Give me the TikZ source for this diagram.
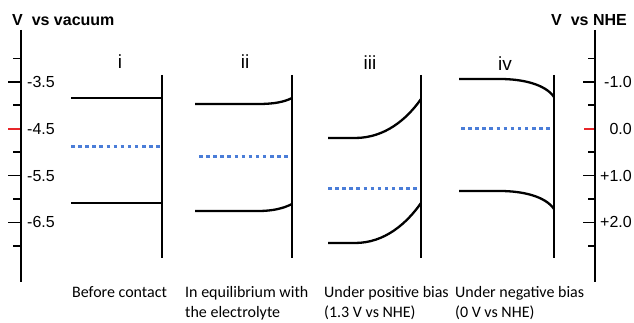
\documentclass[tikz,border=0pt]{standalone}
\usepackage{fontspec}
\setmainfont{Liberation Sans}
\newfontfamily\capfont{Carlito}
\definecolor{fermiblue}{HTML}{4A7DD8}
\definecolor{refred}{HTML}{E8262A}

\begin{document}
\begin{tikzpicture}[x=1pt,y=1pt,
 every node/.style={font=\fontsize{16}{19}\selectfont,inner sep=0pt},
 axis/.style={line width=2.8pt,draw=black},
 tick/.style={line width=1.8pt,draw=black},
 band/.style={line width=2.3pt,draw=black},
 iface/.style={line width=2.6pt,draw=black},
 fermi/.style={line width=3pt,draw=fermiblue,dash pattern=on 3.5pt off 3.6pt},
 head/.style={anchor=west,font=\fontsize{16}{19}\selectfont\bfseries},
 roman/.style={font=\fontsize{19}{22}\selectfont},
 caption/.style={anchor=north west,align=left,font=\capfont\fontsize{16}{20.5}\selectfont}]

\useasboundingbox (0,0) rectangle (634,-323);

\node[head] (vac) at (12,-20) {V\ \ vs vacuum};
\node[head] (nhe) at (551,-20) {V\ \ vs NHE};

\draw[axis] (21,-30) -- (21,-282);
\draw[axis] (595,-30) -- (595,-282);
\foreach \k in {0,2,4,6,8}
 \draw[tick] (13,{-58.6-23.4*\k}) -- (21,{-58.6-23.4*\k})
  (588,{-58.6-23.4*\k}) -- (595,{-58.6-23.4*\k});
\foreach \k in {1,5,7}
 \draw[tick] (8,{-58.6-23.4*\k}) -- (21,{-58.6-23.4*\k})
  (583,{-58.6-23.4*\k}) -- (595,{-58.6-23.4*\k});
\draw[tick,draw=refred] (8,-128.8) -- (20,-128.8) (584,-128.8) -- (594,-128.8);
\foreach \k/\lv/\rv in {1/-3.5/-1.0,3/-4.5/0.0,5/-5.5/+1.0,7/-6.5/+2.0} {
 \node[anchor=west] (vac\k) at (27,{-58.6-23.4*\k}) {\lv};
 \node[anchor=east] (nhe\k) at (632,{-58.6-23.4*\k}) {\rv};
}

\node[roman] (pi) at (120,-62) {i};
\draw[iface] (162,-75) -- (162,-258);
\draw[band] (71,-98) -- (162,-98);
\draw[band] (71,-203) -- (162,-203);
\draw[fermi] (71,-147) -- (161,-147);

\node[roman] (pii) at (245,-62) {ii};
\draw[iface] (292,-75) -- (292,-258);
\draw[band] (195,-104) -- (258,-104) .. controls (274,-104) and (284,-102) .. (292,-98);
\draw[band] (195,-211) -- (258,-211) .. controls (274,-211) and (284,-208) .. (292,-204);
\draw[fermi] (199,-157) -- (291,-157);

\node[roman] (piii) at (370,-63) {iii};
\draw[iface] (421,-75) -- (421,-258);
\draw[band] (328,-138) -- (355,-138) .. controls (385,-138) and (407,-119) .. (421,-99);
\draw[band] (328,-243) -- (355,-243) .. controls (385,-243) and (407,-223) .. (421,-203);
\draw[fermi] (328,-189) -- (420,-189);

\node[roman] (piv) at (505,-64) {iv};
\draw[iface] (554,-75) -- (554,-258);
\draw[band] (459,-79) -- (500,-79) .. controls (522,-79) and (545,-84) .. (554,-97);
\draw[band] (459,-191) -- (500,-191) .. controls (522,-191) and (545,-196) .. (554,-209);
\draw[fermi] (461,-129) -- (553,-129);

\node[caption] (cap1) at (72,-286) {Before contact};
\node[caption] (cap2) at (185,-286) {In equilibrium with\\the electrolyte};
\node[caption] (cap3) at (324,-286) {Under positive bias\\(1.3 V vs NHE)};
\node[caption] (cap4) at (455,-286) {Under negative bias\\(0 V vs NHE)};
\end{tikzpicture}
\end{document}
